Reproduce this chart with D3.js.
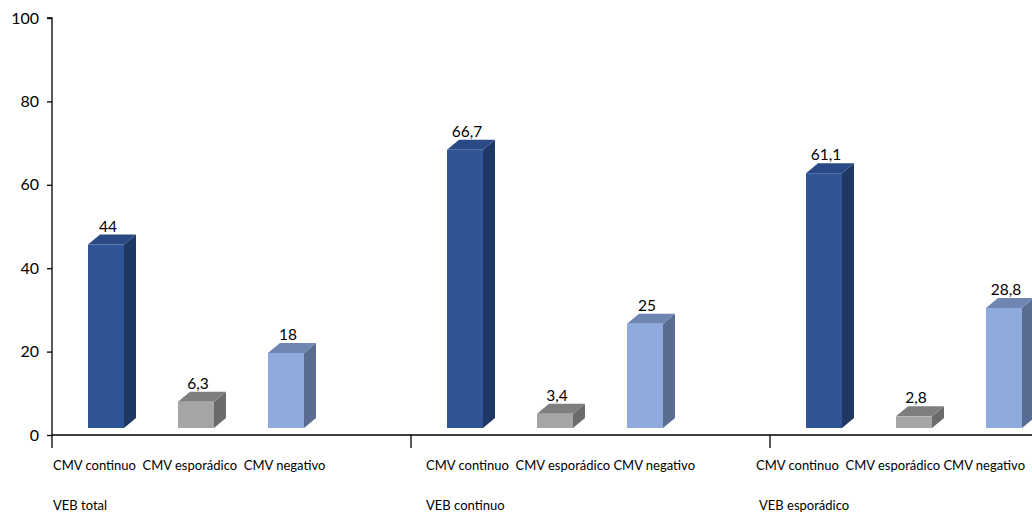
<!DOCTYPE html>
<html>
<head>
<meta charset="utf-8">
<script src="https://cdn.jsdelivr.net/npm/d3@7"></script>
<style>
  html, body { margin: 0; padding: 0; background: #fff; }
  svg { display: block; font-family: Lato, "Open Sans", sans-serif; }
</style>
</head>
<body>
<svg id="chart" width="1032" height="518"></svg>
<script>
// Grupos VEB y series CMV
const groups = ["VEB total", "VEB continuo", "VEB esporádico"];
const groupSubLabels = [
  "CMV continuo  CMV esporádico  CMV negativo",
  "CMV continuo  CMV esporádico CMV negativo",
  "CMV continuo  CMV esporádico CMV negativo"
];
const series = ["CMV continuo", "CMV esporádico", "CMV negativo"];
const valueLabels = [
  ["44", "6,3", "18"],
  ["66,7", "3,4", "25"],
  ["61,1", "2,8", "28,8"]
];
const cmvContinuo = [44, 66.7, 61.1];
const cmvEsporadico = [6.3, 3.4, 2.8];
const cmvNegativo = [18, 25, 28.8];
const yTicks = [0, 20, 40, 60, 80, 100];

const seriesValues = [cmvContinuo, cmvEsporadico, cmvNegativo];
const rows = [];
groups.forEach((g, gi) => {
  series.forEach((s, si) => {
    rows.push({ group: g, gi, series: s, si, value: seriesValues[si][gi], label: valueLabels[gi][si] });
  });
});

// colores: frontal, lateral, superior
const palette = {
  "CMV continuo":   { front: "#2F5597", side: "#1F3763", top: "#2A4A86" },
  "CMV esporádico": { front: "#A5A5A5", side: "#6B6B6B", top: "#7E7E7E" },
  "CMV negativo":   { front: "#8FAADC", side: "#5A6C92", top: "#6F86B3" }
};

const svg = d3.select("#chart");
const x0 = 52, yBase = 435, yTop = 18;
const groupW = 359;

const y = d3.scaleLinear().domain([0, 100]).range([yBase, yTop]);
const xg = d3.scaleBand().domain(groups).range([x0, x0 + groupW * groups.length]).padding(0);
const xs = d3.scaleBand().domain(series).range([0, 288]).paddingInner(0.6).paddingOuter(0.4);

// proyección 3D
const dx = 12, dy = -10, lift = 7;

const bars = svg.append("g");
rows.forEach(d => {
  const c = palette[d.series];
  const xl = xg(d.group) + xs(d.series);
  const w = xs.bandwidth();
  const yb = y(0) - lift;
  const yt = y(d.value) - lift;
  const g = bars.append("g");
  // cara lateral
  g.append("path")
    .attr("d", `M${xl + w},${yt} L${xl + w + dx},${yt + dy} L${xl + w + dx},${yb + dy} L${xl + w},${yb} Z`)
    .attr("fill", c.side);
  // cara superior
  g.append("path")
    .attr("d", `M${xl},${yt} L${xl + dx},${yt + dy} L${xl + w + dx},${yt + dy} L${xl + w},${yt} Z`)
    .attr("fill", c.top);
  // cara frontal
  g.append("rect")
    .attr("x", xl).attr("y", yt)
    .attr("width", w).attr("height", yb - yt)
    .attr("fill", c.front);
  // etiqueta de valor
  g.append("text")
    .attr("x", xl + w / 2 + 2)
    .attr("y", yt - 13)
    .attr("text-anchor", "middle")
    .attr("font-size", 15.5)
    .attr("fill", "#000")
    .text(d.label);
});

// eje Y
const yAxis = svg.append("g")
  .attr("transform", `translate(${x0},0)`)
  .call(d3.axisLeft(y).tickValues(yTicks).tickSize(5).tickPadding(8));
yAxis.select(".domain").attr("stroke", "#000").attr("stroke-width", 1.3)
  .attr("d", `M-5,${yTop}H0V${yBase + 13}`);
yAxis.selectAll(".tick line").attr("stroke", "#000").attr("stroke-width", 1.3);
yAxis.selectAll(".tick text").attr("font-size", 16).attr("fill", "#000")
  .attr("font-family", "Lato, sans-serif");

// eje X
svg.append("line")
  .attr("x1", x0).attr("x2", 1032)
  .attr("y1", yBase).attr("y2", yBase)
  .attr("stroke", "#000").attr("stroke-width", 1.3);
groups.slice(1).forEach(g => {
  svg.append("line")
    .attr("x1", xg(g)).attr("x2", xg(g))
    .attr("y1", yBase).attr("y2", yBase + 13)
    .attr("stroke", "#000").attr("stroke-width", 1.3);
});

// etiquetas de categoría
const subOffset = [1, 15, -14];
const groupOffset = [1, 15, -11];
groups.forEach((g, gi) => {
  svg.append("text")
    .attr("x", xg(g) + subOffset[gi]).attr("y", 470)
    .attr("font-size", 13).attr("fill", "#000")
    .attr("xml:space", "preserve")
    .style("white-space", "pre")
    .text(groupSubLabels[gi]);
  svg.append("text")
    .attr("x", xg(g) + groupOffset[gi]).attr("y", 510)
    .attr("font-size", 13).attr("fill", "#000")
    .text(g);
});
</script>
</body>
</html>
